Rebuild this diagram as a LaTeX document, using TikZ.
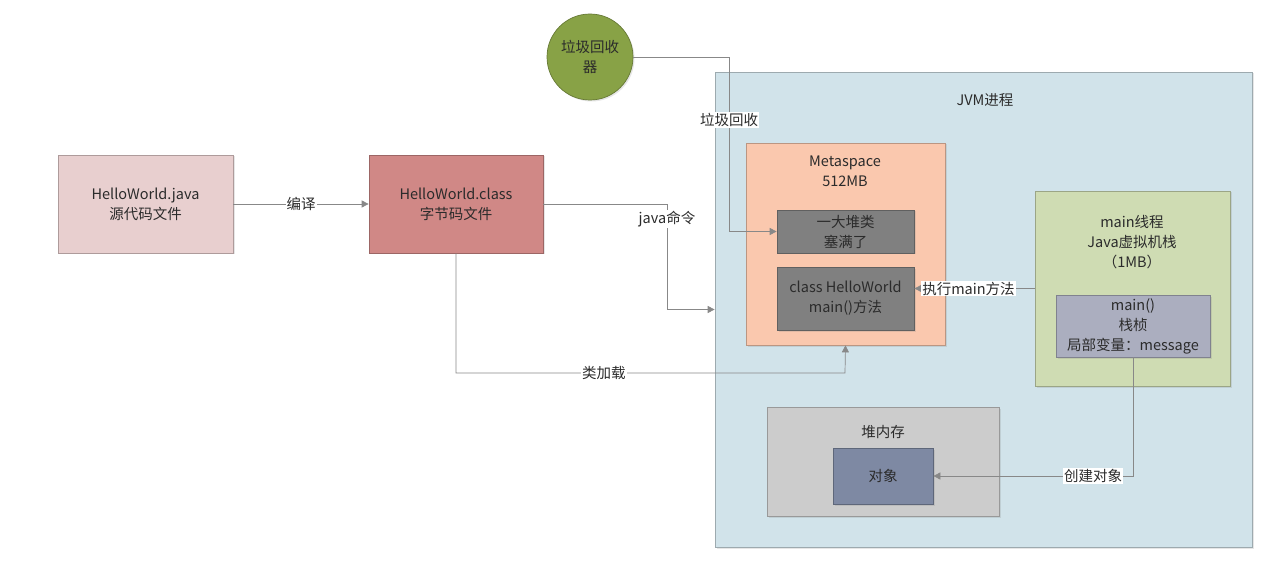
\documentclass[tikz,border=0pt]{standalone}
\usepackage{fontspec}
\setmainfont{Noto Sans CJK SC}
\usepackage{tikz}
\usetikzlibrary{arrows.meta,shadows}

\definecolor{txtgray}{HTML}{2B2B2B}
\definecolor{linegray}{HTML}{888888}
\definecolor{srcpink}{HTML}{E8CFCF}
\definecolor{clsred}{HTML}{D08886}
\definecolor{gcgreen}{HTML}{88A246}
\definecolor{jvmblue}{HTML}{D1E3EA}
\definecolor{metapeach}{HTML}{FAC8AE}
\definecolor{darkbox}{HTML}{808080}
\definecolor{threadgreen}{HTML}{CFDCB3}
\definecolor{framegray}{HTML}{ABAEBF}
\definecolor{heapgray}{HTML}{CCCCCC}
\definecolor{objblue}{HTML}{7E89A3}

\tikzset{
  box/.style={draw=#1!75!black, fill=#1, line width=0.7pt, inner sep=0pt,
    text=txtgray, align=center,
    drop shadow={shadow xshift=1.5pt, shadow yshift=-1.5pt, opacity=0.2}},
  lbl/.style={text=txtgray, align=center, inner sep=1pt},
  conn/.style={draw=linegray, line width=0.7pt,
    -{Triangle[length=7pt,width=7pt]}},
  tag/.style={fill=white, text=txtgray, inner sep=1pt}
}

\begin{document}
\begin{tikzpicture}[x=1pt, y=-1pt, font=\fontsize{14.5}{20}\selectfont]
		%%%%% START %%%%%
		\useasboundingbox (0, 0) rectangle (1280, 572);
		
		% source and class files
		\node[box=srcpink, minimum width=175, minimum height=98] (src) at (145.5, 204) {HelloWorld.java\\源代码文件};
		\node[box=clsred, minimum width=174, minimum height=98] (cls) at (456, 204) {HelloWorld.class\\字节码文件};
		
		% garbage collector
		\node[box=gcgreen, circle, minimum size=86] (gc) at (590, 57) {垃圾回收\\器};
		
		% JVM process
		\node[box=jvmblue, minimum width=537, minimum height=475] (jvm) at (983.5, 309.5) {};
		\node[lbl] (jvmtitle) at (985, 100) {JVM进程};
		
		% metaspace
		\node[box=metapeach, minimum width=199, minimum height=202] (meta) at (845.5, 244) {};
		\node[lbl] (metatitle) at (845, 171) {Metaspace\\512MB};
		\node[box=darkbox, minimum width=137, minimum height=43] (junk) at (845.5, 231.5) {一大堆类\\塞满了};
		\node[box=darkbox, minimum width=137, minimum height=63] (method) at (845.5, 298.5) {class HelloWorld\\main()方法};
		
		% main thread
		\node[box=threadgreen, minimum width=195, minimum height=195] (thread) at (1132.5, 288.5) {};
		\node[lbl] (threadtitle) at (1132, 242) {main线程\\Java虚拟机栈\\（1MB）};
		\node[box=framegray, minimum width=154, minimum height=62] (frame) at (1133, 326) {main()\\栈桢\\局部变量：message};
		
		% heap
		\node[box=heapgray, minimum width=232, minimum height=109] (heap) at (883, 461.5) {};
		\node[lbl] (heaptitle) at (883, 432) {堆内存};
		\node[box=objblue, minimum width=100, minimum height=56] (obj) at (883, 476) {对象};
		
		% connectors
		\coordinate (javax) at (667, 0);
		\coordinate (gcx) at (729, 0);
		\coordinate (loadturn) at (845, 373);
		
		\draw[conn] (src) -- node[tag] {编译} (cls);
		\draw[conn] (cls.east) -| node[tag, pos=0.57] {java命令} (javax |- jvm.west) -- (jvm.west);
		\draw[conn] (cls.south) |- node[tag, pos=0.69] {类加载} (loadturn) -- (meta.south);
		\draw[conn] (gc.east) -| node[tag, pos=0.68] {垃圾回收} (gcx |- junk.west) -- (junk.west);
		\draw[conn] (thread.west) -- node[tag, pos=0.55] {执行main方法} (thread.west -| method.east);
		\draw[conn] (frame.south) |- node[tag, pos=0.6] {创建对象} (obj.east);
		
		%%%%% END %%%%%
	\end{tikzpicture}
\end{document}
